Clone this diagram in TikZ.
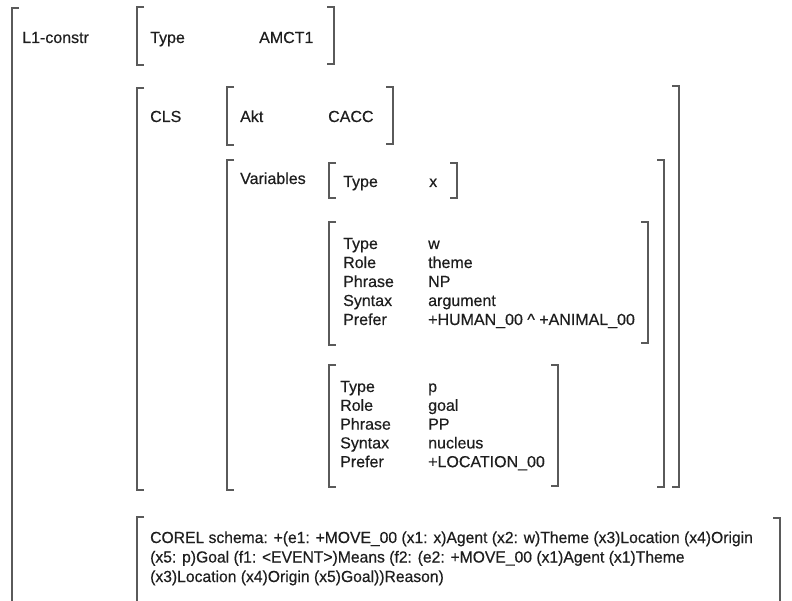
\documentclass[tikz,border=0pt]{standalone}
\usepackage{fontspec}
\setmainfont[FakeBold=0.4]{Liberation Sans}
\newfontfamily\narrowfont[FakeStretch=0.98,FakeBold=0.4]{Liberation Sans}
\definecolor{brkgray}{HTML}{5A5A5A}
\definecolor{txt}{HTML}{1E1E1E}
% square brackets of the matrix: x, top, bottom
\newcommand{\leftbrk}[3]{\draw[brk] (#1+7,#2) -| (#1,#3) -- (#1+7,#3);}
\newcommand{\rightbrk}[3]{\draw[brk] (#1-7,#2) -| (#1,#3) -- (#1-7,#3);}
\begin{document}
\begin{tikzpicture}[x=1pt, y=-1pt,
  brk/.style={draw=brkgray, line width=1.2pt},
  lbl/.style={anchor=base west, inner sep=0pt, text=txt, font=\fontsize{16}{19}\selectfont},
  corel/.style={lbl, font=\narrowfont\fontsize{16}{19}\selectfont}]
\useasboundingbox[fill=white] (0,0) rectangle (792,601);

% brackets
\leftbrk{12}{8}{615}
\leftbrk{137}{7}{65}   \rightbrk{334}{7}{64}
\leftbrk{137}{88}{490} \rightbrk{679}{86}{487}
\leftbrk{227}{87}{145} \rightbrk{393}{87}{144}
\leftbrk{227}{160}{490} \rightbrk{664}{160}{487}
\leftbrk{329}{163}{198} \rightbrk{457}{163}{198}
\leftbrk{329}{222}{345} \rightbrk{648}{222}{343}
\leftbrk{329}{365}{487} \rightbrk{558}{365}{486}
\leftbrk{137}{517}{615} \rightbrk{780}{518}{615}

% labels
\node[lbl] (l1) at (22,43) {L1-constr};
\node[lbl] (typeA) at (150,43) {Type};
\node[lbl] (amct) at (259,43) {AMCT1};
\node[lbl] (cls) at (150,122) {CLS};
\node[lbl] (akt) at (240,122) {Akt};
\node[lbl] (cacc) at (328,122) {CACC};
\node[lbl] (vars) at (240,184) {Variables};
\node[lbl] (typeX) at (343,187) {Type};
\node[lbl] (valX) at (429,187) {x};

\foreach \lab/\val [count=\i] in {Type/w, Role/theme, Phrase/NP, Syntax/argument,
    Prefer/{+HUMAN\_00 \textasciicircum{} +ANIMAL\_00}}{
  \node[lbl] (wlab\i) at (343,249+19*\i-19) {\lab};
  \node[lbl] (wval\i) at (428,249+19*\i-19) {\val};
}
\foreach \lab/\val [count=\i] in {Type/p, Role/goal, Phrase/PP, Syntax/nucleus,
    Prefer/{+LOCATION\_00}}{
  \node[lbl] (plab\i) at (340,392+18.8*\i-18.8) {\lab};
  \node[lbl] (pval\i) at (428,392+18.8*\i-18.8) {\val};
}

% COREL schema
\node[corel] (corel1) at (150,543) {COREL schema: +(e1: +MOVE\_00 (x1: x)Agent (x2: w)Theme (x3)Location (x4)Origin};
\node[corel] (corel2) at (150,562.5) {(x5: p)Goal (f1: <EVENT>)Means (f2: (e2: +MOVE\_00 (x1)Agent (x1)Theme};
\node[corel] (corel3) at (150,582) {(x3)Location (x4)Origin (x5)Goal))Reason)};
\end{tikzpicture}
\end{document}
